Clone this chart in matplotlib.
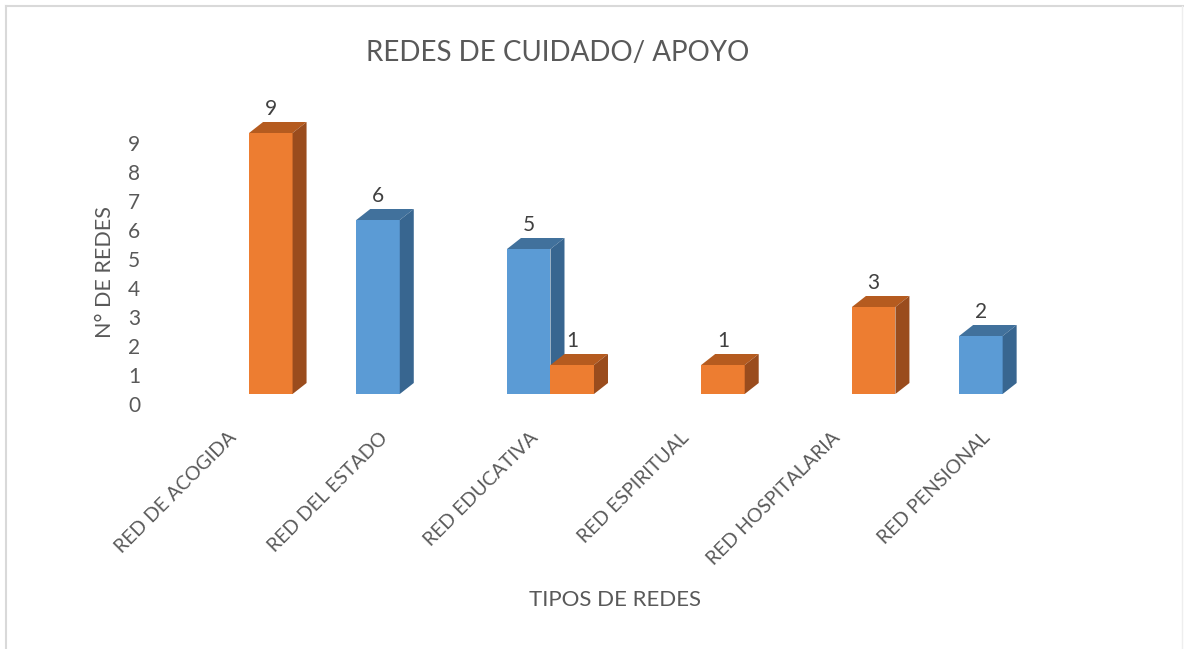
import numpy as np
import matplotlib
matplotlib.use("Agg")
import matplotlib.pyplot as plt
from matplotlib.patches import Polygon
from matplotlib.lines import Line2D
import matplotlib.transforms as mtransforms

plt.rcParams["font.family"] = ["Lato", "DejaVu Sans"]

# --- datos ---
categorias = ["RED DE ACOGIDA", "RED DEL ESTADO", "RED EDUCATIVA",
              "RED ESPIRITUAL", "RED HOSPITALARIA", "RED PENSIONAL"]
serie_azul = [np.nan, 6, 5, np.nan, np.nan, 2]
serie_naranja = [9, np.nan, 1, 1, 3, np.nan]
y_ticks = list(range(0, 10))

titulo = "REDES DE CUIDADO/ APOYO"
eje_x = "TIPOS DE REDES"
eje_y = "N° DE REDES"

# colores (frente, arriba, lado)
col_azul = ("#5B9BD5", "#41719C", "#386690")
col_naranja = ("#ED7D31", "#B55B1F", "#9A4C1D")
gris_txt = "#595959"

W, H, DPI = 1184, 649, 100
fig = plt.figure(figsize=(W / DPI, H / DPI), dpi=DPI)

# ejes colocados en pixeles
x_left, x_right = 173.7, 1078.0
y_bot, y_top = 404.0, 114.0
ax = fig.add_axes([x_left / W, (H - y_bot) / H, (x_right - x_left) / W, (y_bot - y_top) / H])
ax.set_xlim(-0.5, 5.5)
ax.set_ylim(0, 10)

px_x = 6.0 / (x_right - x_left)   # unidades de datos por pixel
px_y = 10.0 / (y_bot - y_top)

ancho = 43.5 * px_x
base = 10 * px_y
dx, dy = 14 * px_x, 11 * px_y

x = np.arange(len(categorias))


def barras_3d(xs, vals, cols):
    vals = np.asarray(vals, dtype=float)
    ok = ~np.isnan(vals)
    ax.bar(xs[ok], vals[ok], width=ancho, bottom=base, align="edge",
           color=cols[0], edgecolor="none", zorder=2)
    for xi, v in zip(xs[ok], vals[ok]):
        top = base + v
        ax.add_patch(Polygon([(xi, top), (xi + ancho, top), (xi + ancho + dx, top + dy), (xi + dx, top + dy)],
                             closed=True, facecolor=cols[1], edgecolor="none", zorder=2, clip_on=False))
        ax.add_patch(Polygon([(xi + ancho, base), (xi + ancho + dx, base + dy), (xi + ancho + dx, top + dy), (xi + ancho, top)],
                             closed=True, facecolor=cols[2], edgecolor="none", zorder=2, clip_on=False))
        ax.text(xi + ancho / 2, top + dy + 7 * px_y, f"{int(v)}", ha="center", va="baseline",
                fontsize=15, color="#404040", clip_on=False)


barras_3d(x - ancho, serie_azul, col_azul)
barras_3d(x.astype(float), serie_naranja, col_naranja)

for s in ax.spines.values():
    s.set_visible(False)
ax.set_xticks([])
ax.set_yticks(y_ticks)
ax.tick_params(axis="y", length=0, pad=24, labelsize=15, labelcolor=gris_txt)

# etiquetas de categoria rotadas
trans = mtransforms.blended_transform_factory(ax.transData, ax.transAxes)
for xi, lab in zip(x, categorias):
    ax.text(xi - 21 * px_x, -25 / (y_bot - y_top), lab, rotation=45, rotation_mode="anchor",
            ha="right", va="top", fontsize=14, color=gris_txt, transform=trans)

fig.text(558 / W, 1 - 53 / H, titulo, ha="center", va="center", fontsize=20, color=gris_txt)
fig.text(615 / W, 1 - 600 / H, eje_x, ha="center", va="center", fontsize=16, color=gris_txt)
fig.text(105 / W, 1 - 272 / H, eje_y, ha="center", va="center", rotation=90, fontsize=15.5, color=gris_txt)

# marco gris del grafico
borde = "#D9D9D9"
fig.add_artist(Line2D([6 / W, 6 / W], [0, 1 - 6 / H], color=borde, lw=1.5))
fig.add_artist(Line2D([6 / W, 1], [1 - 6 / H, 1 - 6 / H], color=borde, lw=1.5))
fig.add_artist(Line2D([1182 / W, 1182 / W], [0, 1 - 6 / H], color="#EEEEEE", lw=1))

fig.savefig("out.png", dpi=DPI)
